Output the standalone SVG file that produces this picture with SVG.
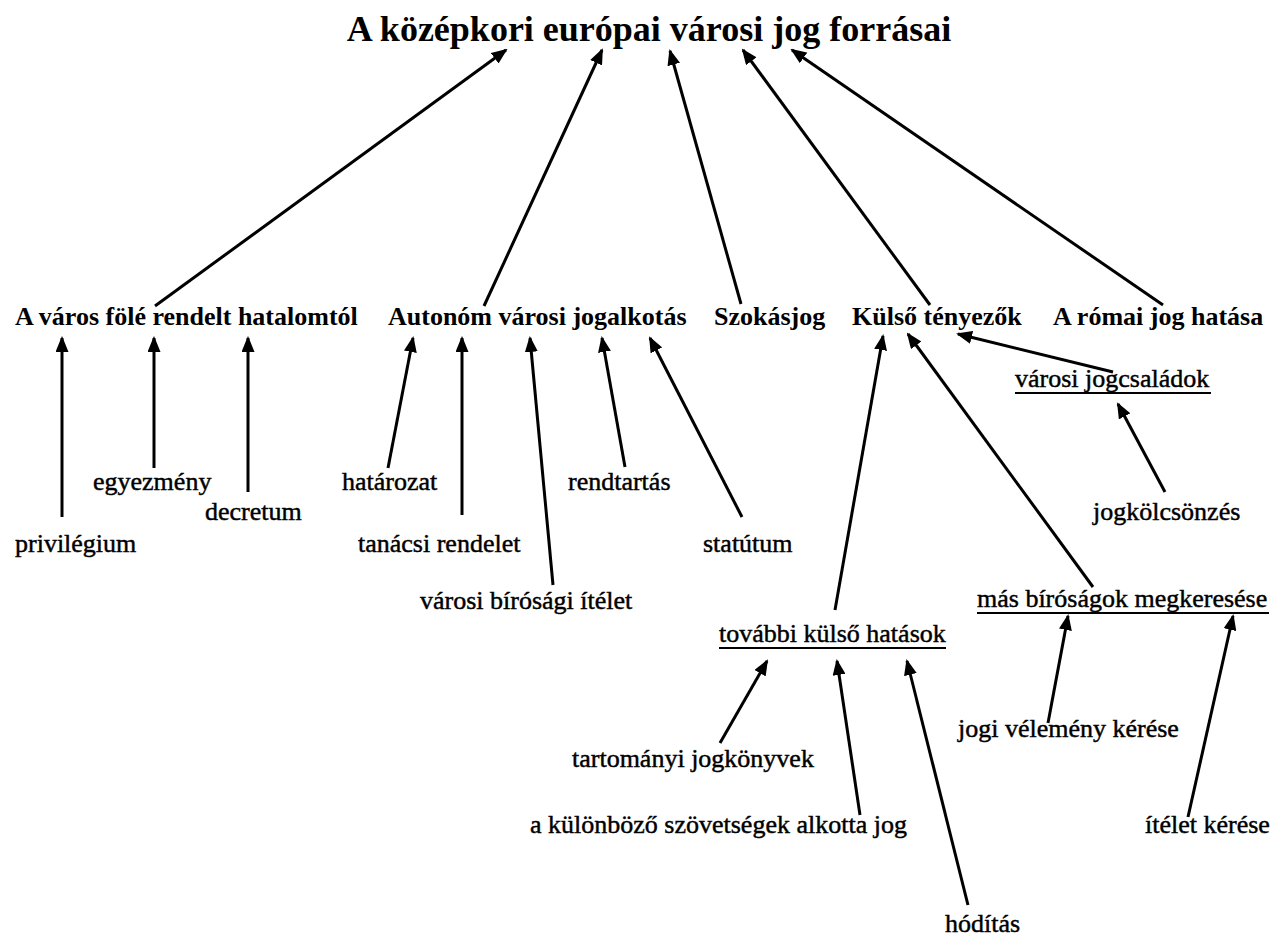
<svg xmlns="http://www.w3.org/2000/svg" width="1274" height="938" viewBox="0 0 1274 938">
<style>
text{font-family:"Liberation Serif","Times New Roman",serif;fill:#000}
.t{font-size:36px;font-weight:bold;text-anchor:middle}
.h{font-size:26px;font-weight:bold}
.l{font-size:26px;stroke:#000;stroke-width:0.45}
.u{stroke:#000;stroke-width:2}
#edges line{stroke:#000;stroke-width:3;marker-end:url(#ah)}
</style>
<defs>
<marker id="ah" viewBox="0 0 16 13" refX="14" refY="6.5" markerWidth="16" markerHeight="13" markerUnits="userSpaceOnUse" orient="auto">
<path d="M0,0 L16,6.5 L0,13 z" fill="#000"/>
</marker>
</defs>
<rect width="1274" height="938" fill="#fff"/>
<g id="edges">
<line x1="155" y1="306" x2="506" y2="50"/>
<line x1="484" y1="306" x2="602" y2="50"/>
<line x1="741" y1="304" x2="670" y2="51"/>
<line x1="930" y1="305" x2="743" y2="50"/>
<line x1="1163" y1="305" x2="792" y2="50"/>
<line x1="62" y1="517" x2="62" y2="338"/>
<line x1="154" y1="468" x2="154" y2="338"/>
<line x1="248" y1="492" x2="248" y2="338"/>
<line x1="388" y1="468" x2="413" y2="338"/>
<line x1="462" y1="515" x2="462" y2="338"/>
<line x1="553" y1="585" x2="530" y2="338"/>
<line x1="625" y1="467" x2="602" y2="338"/>
<line x1="742" y1="517" x2="650" y2="338"/>
<line x1="835" y1="610" x2="883" y2="336"/>
<line x1="1093" y1="587" x2="908" y2="334"/>
<line x1="1113" y1="372" x2="958" y2="334"/>
<line x1="1165" y1="492" x2="1118" y2="404"/>
<line x1="720" y1="743" x2="767" y2="661"/>
<line x1="860" y1="815" x2="837" y2="661"/>
<line x1="968" y1="905" x2="907" y2="661"/>
<line x1="1048" y1="723" x2="1068" y2="616"/>
<line x1="1188" y1="817" x2="1233" y2="616"/>
</g>
<g id="title"><text class="t" x="649" y="41">A középkori európai városi jog forrásai</text></g>
<g id="n-hatalom"><text class="h" x="15" y="325">A város fölé rendelt hatalomtól</text></g>
<g id="n-autonom"><text class="h" x="388" y="325">Autonóm városi jogalkotás</text></g>
<g id="n-szokasjog"><text class="h" x="714" y="325">Szokásjog</text></g>
<g id="n-kulso"><text class="h" x="852" y="325">Külső tényezők</text></g>
<g id="n-romai"><text class="h" x="1053" y="325">A római jog hatása</text></g>
<g id="n-privilegium"><text class="l" x="15" y="552">privilégium</text></g>
<g id="n-egyezmeny"><text class="l" x="93" y="490">egyezmény</text></g>
<g id="n-decretum"><text class="l" x="205" y="520">decretum</text></g>
<g id="n-hatarozat"><text class="l" x="342" y="490">határozat</text></g>
<g id="n-tanacsi"><text class="l" x="358" y="552">tanácsi rendelet</text></g>
<g id="n-birosagi"><text class="l" x="420" y="609">városi bírósági ítélet</text></g>
<g id="n-rendtartas"><text class="l" x="568" y="490">rendtartás</text></g>
<g id="n-statutum"><text class="l" x="703" y="552">statútum</text></g>
<g id="n-jogcsaladok"><text class="l" x="1015" y="387">városi jogcsaládok</text><line class="u" x1="1015" y1="393" x2="1211" y2="393"/></g>
<g id="n-jogkolcsonzes"><text class="l" x="1093" y="520">jogkölcsönzés</text></g>
<g id="n-mas"><text class="l" x="977" y="607">más bíróságok megkeresése</text><line class="u" x1="977" y1="613" x2="1269" y2="613"/></g>
<g id="n-tovabbi"><text class="l" x="719" y="642">további külső hatások</text><line class="u" x1="719" y1="648" x2="946" y2="648"/></g>
<g id="n-tartomanyi"><text class="l" x="572" y="767">tartományi jogkönyvek</text></g>
<g id="n-szovetsegek"><text class="l" x="530" y="833">a különböző szövetségek alkotta jog</text></g>
<g id="n-hoditas"><text class="l" x="945" y="932">hódítás</text></g>
<g id="n-velemeny"><text class="l" x="958" y="737">jogi vélemény kérése</text></g>
<g id="n-itelet"><text class="l" x="1145" y="833">ítélet kérése</text></g>
</svg>
